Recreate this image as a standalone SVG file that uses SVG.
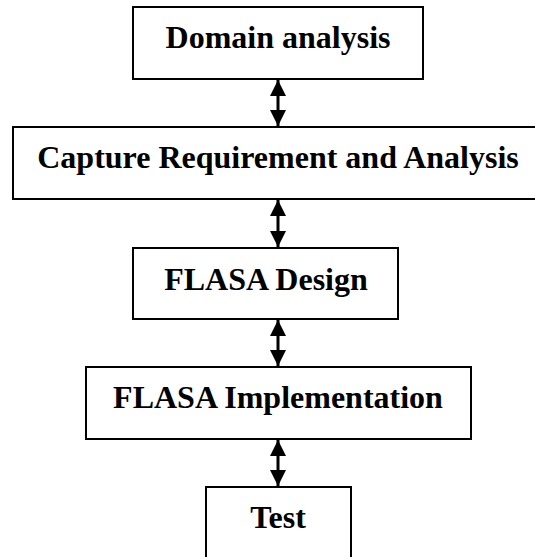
<svg xmlns="http://www.w3.org/2000/svg" width="535" height="557" viewBox="0 0 535 557">
<style>
.box{fill:#fff;stroke:#000;stroke-width:2}
.lbl{font-family:"Liberation Serif","Times New Roman",serif;font-weight:bold;font-size:32px;fill:#000;text-anchor:middle}
.conn{stroke:#000;stroke-width:3;fill:none;marker-start:url(#ah);marker-end:url(#ah)}
</style>
<defs>
<marker id="ah" viewBox="0 0 10 10" refX="10" refY="5" markerUnits="userSpaceOnUse" markerWidth="17" markerHeight="16" orient="auto-start-reverse">
<path d="M0,0 L10,5 L0,10 Z" fill="#000"/>
</marker>
</defs>
<rect width="535" height="557" fill="#fff"/>
<g id="connectors">
<line class="conn" x1="278" y1="80" x2="278" y2="126"/>
<line class="conn" x1="278" y1="200" x2="278" y2="247"/>
<line class="conn" x1="278" y1="320" x2="278" y2="366"/>
<line class="conn" x1="278" y1="440" x2="278" y2="486"/>
</g>
<g id="domain-analysis">
<rect class="box" x="133" y="7" width="290" height="72"/>
<text class="lbl" x="278" y="48">Domain analysis</text>
</g>
<g id="capture-requirement">
<rect class="box" x="13" y="127" width="530" height="72"/>
<text class="lbl" x="278" y="168">Capture Requirement and Analysis</text>
</g>
<g id="flasa-design">
<rect class="box" x="133" y="248" width="265" height="71"/>
<text class="lbl" x="266" y="290">FLASA Design</text>
</g>
<g id="flasa-implementation">
<rect class="box" x="86" y="367" width="385" height="72"/>
<text class="lbl" x="278" y="408">FLASA Implementation</text>
</g>
<g id="test">
<rect class="box" x="206" y="487" width="145" height="90"/>
<text class="lbl" x="278" y="528">Test</text>
</g>
</svg>
